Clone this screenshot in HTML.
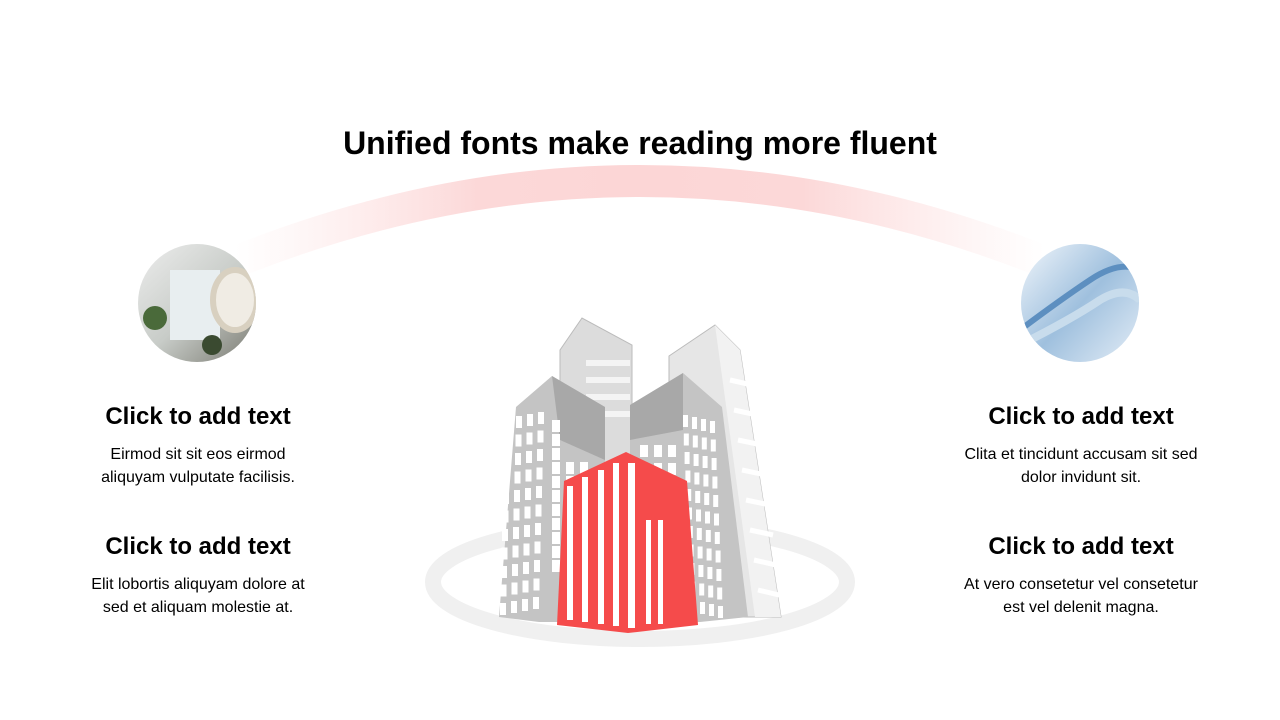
<!DOCTYPE html>
<html><head><meta charset="utf-8"><style>
body{margin:0;width:1280px;height:720px;background:#fff;font-family:"Liberation Sans",sans-serif;position:relative;overflow:hidden}
.t{position:absolute;text-align:center;color:#000}
h1{position:absolute;left:0;width:1280px;top:125px;margin:0;text-align:center;font-size:32px;font-weight:bold}
.h{font-size:24px;font-weight:bold}
.p{font-size:16px;line-height:23px;margin-top:12px}
</style></head><body>
<svg width="1280" height="720" style="position:absolute;left:0;top:0">
<defs>
<linearGradient id="ag" x1="0" x2="1"><stop offset="0" stop-color="#fde2e2" stop-opacity="0"/><stop offset="0.3" stop-color="#fcd8d8"/><stop offset="0.5" stop-color="#fcd6d6"/><stop offset="0.7" stop-color="#fcd8d8"/><stop offset="1" stop-color="#fde2e2" stop-opacity="0"/></linearGradient>
<linearGradient id="bl" x1="0" y1="0" x2="1" y2="1"><stop offset="0" stop-color="#f4f8fc"/><stop offset="0.5" stop-color="#9fc0de"/><stop offset="1" stop-color="#e8f0f8"/></linearGradient>
<linearGradient id="lf" x1="0" y1="0" x2="1" y2="1"><stop offset="0" stop-color="#f0f0f0"/><stop offset="0.5" stop-color="#c8ccc8"/><stop offset="1" stop-color="#6a6a60"/></linearGradient>
<clipPath id="c1"><circle cx="197" cy="303" r="59"/></clipPath>
<clipPath id="c2"><circle cx="1080" cy="303" r="59"/></clipPath>
</defs>
<path d="M235,262 Q640,100 1045,262" stroke="url(#ag)" stroke-width="32" fill="none"/>
<g clip-path="url(#c1)"><rect x="130" y="240" width="140" height="130" fill="url(#lf)"/>
<rect x="170" y="270" width="50" height="70" fill="#e8eef0"/>
<circle cx="155" cy="318" r="12" fill="#4a6a3a"/><circle cx="212" cy="345" r="10" fill="#3a4a30"/>
<ellipse cx="235" cy="300" rx="22" ry="30" fill="#f0ece4" stroke="#d8d0c0" stroke-width="6"/></g>
<g clip-path="url(#c2)"><rect x="1020" y="240" width="120" height="130" fill="url(#bl)"/>
<path d="M1020,330 Q1060,300 1090,280 Q1120,260 1140,270" stroke="#5d8fc0" stroke-width="6" fill="none"/>
<path d="M1020,345 Q1070,320 1100,300 Q1125,285 1140,300" stroke="#c8dcec" stroke-width="8" fill="none"/></g>
<ellipse cx="640" cy="582" rx="207" ry="57" fill="none" stroke="#f0f0f0" stroke-width="16"/>
<polygon points="560,350 582,318 632,345 632,500 560,500" fill="#dcdcdc" stroke="#bbb"/>
<g fill="#f4f4f4"><rect x="586" y="360" width="44" height="6"/><rect x="586" y="377" width="44" height="6"/><rect x="586" y="394" width="44" height="6"/><rect x="586" y="411" width="44" height="6"/></g>
<polygon points="669,356 715,325 740,350 781,617 700,617 669,450" fill="#e6e6e6" stroke="#bbb"/>
<polygon points="715,325 740,350 781,617 755,617" fill="#f2f2f2"/>
<g stroke="#fff" stroke-width="5"><line x1="730" y1="380" x2="752" y2="385"/><line x1="734" y1="410" x2="757" y2="415"/><line x1="738" y1="440" x2="762" y2="445"/><line x1="742" y1="470" x2="766" y2="475"/><line x1="746" y1="500" x2="770" y2="505"/><line x1="750" y1="530" x2="773" y2="535"/><line x1="754" y1="560" x2="776" y2="565"/><line x1="758" y1="590" x2="779" y2="595"/></g>
<polygon points="516,407 552,376 605,407 605,622 539,622 499,617" fill="#c4c4c4"/>
<polygon points="552,376 605,407 605,460 560,440" fill="#a8a8a8"/>
<polygon points="630,405 683,373 722,407 748,617 700,622 630,622" fill="#c4c4c4"/>
<polygon points="630,405 683,373 683,430 630,440" fill="#a8a8a8"/>
<g id="win" fill="#fff"></g>
<polygon points="564,481 626,452 687,481 698,625 628,633 557,625" fill="#f54b4b"/>
<g fill="#fff"><rect x="567" y="486" width="6" height="134"/><rect x="582" y="477" width="6" height="145"/><rect x="598" y="470" width="6" height="154"/><rect x="613" y="463" width="6" height="163"/><rect x="628" y="463" width="7" height="165"/><rect x="646" y="520" width="5" height="104"/><rect x="658" y="520" width="5" height="104"/></g>
</svg>
<script>
var g=document.getElementById('win'),s='';
function w(x,y,a,b){s+='<rect x="'+x+'" y="'+y+'" width="'+a+'" height="'+b+'"/>';}
for(var r=0;r<11;r++){for(var c=0;c<4;c++){w(505-r*0.5+c*11,418+r*18.5-c*2,6,12);} for(var c=0;c<3;c++){if(r>2||c<1)w(552+c*14,460+r*14-40,8,12);}}
for(var r=0;r<11;r++){for(var c=0;c<4;c++){w(683+c*9+r*0.8,415+r*18.5+c*2,5,12);} }
for(var r=0;r<4;r++){for(var c=0;c<3;c++)w(640+c*14,445+r*18,8,12);}
g.innerHTML=s;
</script>
<h1>Unified fonts make reading more fluent</h1>
<div class="t" style="left:48px;width:300px;top:403px"><div class="h">Click to add text</div><div class="p">Eirmod sit sit eos eirmod<br>aliquyam vulputate facilisis.</div></div>
<div class="t" style="left:48px;width:300px;top:533px"><div class="h">Click to add text</div><div class="p">Elit lobortis aliquyam dolore at<br>sed et aliquam molestie at.</div></div>
<div class="t" style="left:921px;width:320px;top:403px"><div class="h">Click to add text</div><div class="p">Clita et tincidunt accusam sit sed<br>dolor invidunt sit.</div></div>
<div class="t" style="left:921px;width:320px;top:533px"><div class="h">Click to add text</div><div class="p">At vero consetetur vel consetetur<br>est vel delenit magna.</div></div>
</body></html>
